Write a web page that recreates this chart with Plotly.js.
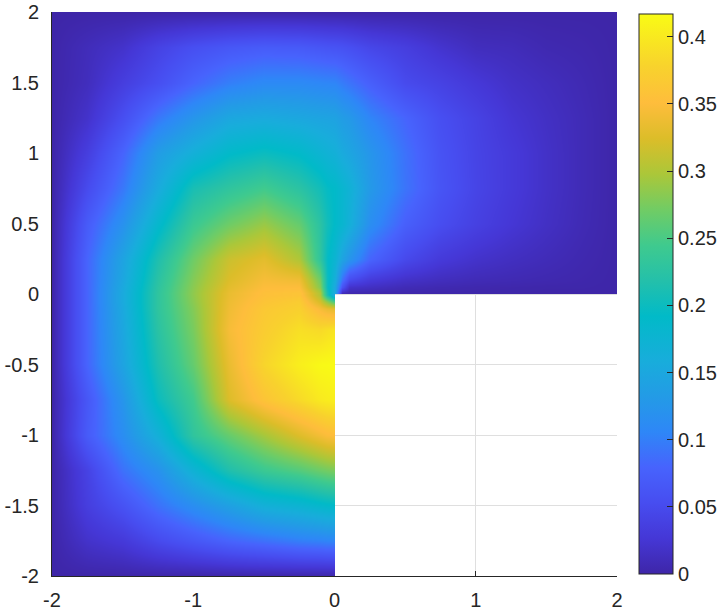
<!DOCTYPE html>
<html>
<head>
<meta charset="utf-8">
<script src="https://cdn.plot.ly/plotly-3.0.1.min.js"></script>
<style>
  html, body { margin: 0; padding: 0; background: #fff; }
  #chart { width: 725px; height: 612px; }
</style>
</head>
<body>
<div id="chart"></div>
<script>
// values, top part of the L (y >= 0)
const xTop = [-2, -1.75, -1.5, -1.25, -1, -0.75, -0.5, -0.25, -0.1, -0.05, 0, 0.05, 0.1, 0.25, 0.5, 0.75, 1, 1.25, 1.5, 1.75, 2];
const yTop = [0, 0.004, 0.05, 0.1, 0.25, 0.5, 0.75, 1, 1.25, 1.5, 1.75, 2];
const zTop = [
  [0, .08, .155, .23, .285, .335, .355, .36, .3, .21, .15, 0, 0, 0, 0, 0, 0, 0, 0, 0, 0],
  [0, .08, .155, .23, .285, .335, .355, .36, .3, .21, .15, .01, .004, .002, .002, .001, .001, .001, 0, 0, 0],
  [0, .08, .153, .228, .283, .33, .35, .35, .28, .2, .15, .06, .02, .015, .008, .005, .003, .002, .001, .001, 0],
  [0, .08, .15, .225, .28, .325, .345, .34, .27, .2, .16, .09, .05, .03, .018, .012, .008, .006, .004, .002, 0],
  [0, .08, .145, .215, .27, .315, .33, .3, .23, .195, .175, .145, .125, .08, .048, .03, .02, .014, .009, .004, 0],
  [0, .07, .12, .185, .24, .27, .29, .265, .225, .205, .19, .18, .165, .115, .075, .053, .038, .026, .016, .007, 0],
  [0, .05, .095, .155, .21, .23, .245, .225, .205, .195, .19, .18, .17, .13, .092, .062, .043, .03, .018, .008, 0],
  [0, .035, .08, .135, .165, .19, .2, .19, .175, .17, .165, .155, .148, .125, .09, .06, .042, .03, .018, .008, 0],
  [0, .02, .055, .095, .125, .15, .155, .15, .146, .145, .143, .135, .13, .105, .08, .055, .04, .025, .016, .008, 0],
  [0, .012, .035, .055, .08, .1, .11, .11, .107, .106, .105, .098, .092, .075, .05, .04, .028, .018, .012, .006, 0],
  [0, .01, .02, .04, .055, .065, .07, .068, .063, .061, .06, .058, .055, .045, .035, .022, .012, .01, .005, .003, 0],
  [0, 0, 0, 0, 0, 0, 0, 0, 0, 0, 0, 0, 0, 0, 0, 0, 0, 0, 0, 0, 0]
];

// lower left square of the L (x <= 0, y <= 0)
const xLow = [-2, -1.75, -1.5, -1.25, -1, -0.75, -0.5, -0.25, -0.1, -0.05, -0.004, 0];
const yLow = [-2, -1.75, -1.5, -1.25, -1, -0.75, -0.5, -0.25, -0.1, -0.05, 0];
const zLow = [
  [0, 0, 0, 0, 0, 0, 0, 0, 0, 0, 0, 0],
  [0, .02, .03, .05, .065, .08, .09, .1, .103, .105, .105, .105],
  [0, .035, .06, .09, .115, .14, .165, .175, .185, .188, .19, .19],
  [0, .04, .09, .12, .17, .215, .24, .255, .268, .272, .275, .275],
  [0, .07, .115, .165, .23, .265, .295, .325, .342, .348, .35, .35],
  [0, .065, .125, .2, .245, .325, .36, .385, .4, .403, .405, .405],
  [0, .08, .145, .215, .265, .335, .38, .405, .415, .416, .417, .417],
  [0, .08, .15, .225, .275, .345, .37, .39, .385, .39, .395, .395],
  [0, .08, .153, .23, .28, .34, .365, .375, .345, .335, .33, .33],
  [0, .08, .155, .23, .283, .338, .36, .37, .32, .285, .25, .25],
  [0, .08, .155, .23, .285, .335, .355, .36, .3, .21, .15, .15]
];

const xTicks = [-2, -1, 0, 1, 2];
const xTickText = ['-2', '-1', '0', '1', '2'];
const yTicks = [-2, -1.5, -1, -0.5, 0, 0.5, 1, 1.5, 2];
const yTickText = ['-2', '-1.5', '-1', '-0.5', '0', '0.5', '1', '1.5', '2'];
const barTicks = [0, 0.05, 0.1, 0.15, 0.2, 0.25, 0.3, 0.35, 0.4];

// parula
const parula = [
  [0, 'rgb(62,38,168)'], [0.0635, 'rgb(69,55,214)'], [0.127, 'rgb(71,77,240)'],
  [0.19, 'rgb(71,99,253)'], [0.254, 'rgb(46,135,247)'], [0.317, 'rgb(35,155,230)'],
  [0.381, 'rgb(24,173,219)'], [0.46, 'rgb(1,186,200)'], [0.524, 'rgb(36,192,170)'],
  [0.587, 'rgb(63,202,142)'], [0.651, 'rgb(113,204,100)'], [0.714, 'rgb(171,199,57)'],
  [0.778, 'rgb(220,189,41)'], [0.841, 'rgb(254,189,60)'], [0.905, 'rgb(248,210,45)'],
  [1, 'rgb(249,251,21)']
];

const textColor = '#262626';
const tickFont = { family: 'Liberation Sans, Arial, sans-serif', size: 20, color: textColor };

const traces = [
  { type: 'heatmap', x: xLow, y: yLow, z: zLow, zsmooth: 'best', coloraxis: 'coloraxis' },
  { type: 'heatmap', x: xTop, y: yTop, z: zTop, zsmooth: 'best', coloraxis: 'coloraxis' }
];

const layout = {
  width: 725,
  height: 612,
  margin: { l: 52, r: 108, t: 12, b: 36, autoexpand: false },
  paper_bgcolor: '#fff',
  plot_bgcolor: '#fff',
  font: tickFont,
  showlegend: false,
  xaxis: {
    range: [-2, 2], tickmode: 'array', tickvals: xTicks, ticktext: xTickText,
    ticks: 'inside', ticklen: 5, tickcolor: textColor, showline: true, linecolor: textColor,
    linewidth: 1, layer: 'below traces', showgrid: true, gridcolor: '#dfdfdf', zeroline: false,
    tickfont: tickFont, ticklabelstandoff: 6
  },
  yaxis: {
    range: [-2, 2], tickmode: 'array', tickvals: yTicks, ticktext: yTickText,
    ticks: 'inside', ticklen: 5, tickcolor: textColor, showline: true, linecolor: textColor,
    linewidth: 1, layer: 'below traces', showgrid: true, gridcolor: '#dfdfdf', zeroline: false,
    tickfont: tickFont, ticklabelstandoff: 8
  },
  coloraxis: {
    cmin: 0, cmax: 0.417, colorscale: parula,
    colorbar: {
      x: 1.039, xanchor: 'left', y: 0.5, yanchor: 'middle', len: 0.993, lenmode: 'fraction',
      thickness: 34, thicknessmode: 'pixels', outlinecolor: textColor, outlinewidth: 1,
      tickmode: 'array', tickvals: barTicks, ticktext: barTicks.map(String),
      ticks: 'inside', ticklen: 6, tickcolor: textColor, tickfont: tickFont,
      xpad: 0, ypad: 0
    }
  }
};

Plotly.newPlot('chart', traces, layout, { displayModeBar: false, staticPlot: true });
</script>
</body>
</html>
